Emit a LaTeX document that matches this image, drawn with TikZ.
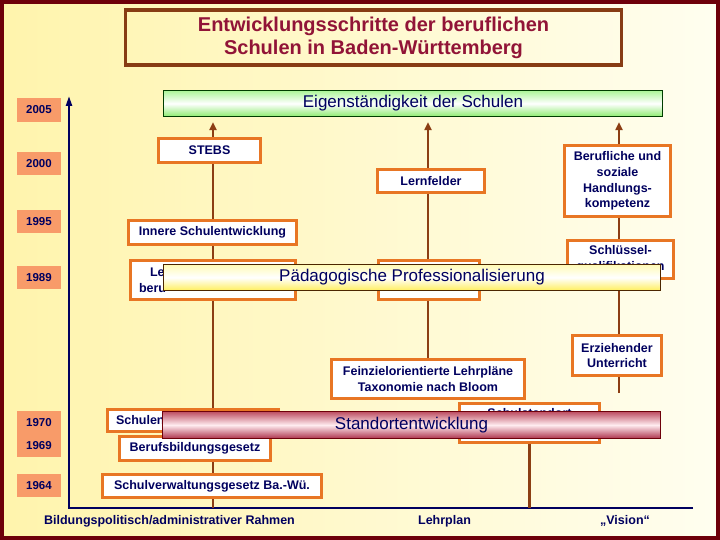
\documentclass[tikz,border=0pt]{standalone}
\usepackage{fontspec}
\setmainfont{Liberation Sans}
\usepackage{tikz}
\usetikzlibrary{arrows.meta,positioning}

\definecolor{framered}{RGB}{110,0,10}
\definecolor{titlebrown}{RGB}{135,60,20}
\definecolor{titletext}{RGB}{145,20,55}
\definecolor{navy}{RGB}{0,0,95}
\definecolor{salmon}{RGB}{248,155,105}
\definecolor{boxorange}{RGB}{232,118,36}
\definecolor{colbrown}{RGB}{140,62,20}
\definecolor{bgyellow}{RGB}{255,244,172}
\definecolor{bgwhite}{RGB}{255,254,240}
\newcommand{\boxfont}{\fontsize{12.5}{15.6}\selectfont\bfseries}
\newcommand{\yearfont}{\fontsize{11.5}{13}\selectfont\bfseries}
\newcommand{\bannerfont}{\fontsize{17}{20}\selectfont}
\newcommand{\headfont}{\fontsize{20}{23}\selectfont\bfseries}

\begin{document}
\begin{tikzpicture}[
      x=1pt, y=-1pt,
      yearbox/.style={fill=salmon, text=navy, font=\yearfont,
                      minimum width=44pt, minimum height=23pt, inner sep=0pt},
      stepbox/.style={draw=boxorange, line width=2.6pt, fill=white,
                      text=navy, font=\boxfont, align=center, inner sep=0pt},
      banner/.style={line width=0.8pt, text=navy, font=\bannerfont,
                     minimum height=26.5pt, inner sep=0pt},
      col/.style={draw=colbrown, line width=2.5pt},
      colarr/.style={col, -{Triangle[length=8pt,width=7pt]}, shorten >=5pt},
      axis/.style={draw=navy, line width=2.2pt},
      foot/.style={text=navy, font=\boxfont}
    ]
    \useasboundingbox (0,0) rectangle (720,540);
    \shade[left color=bgyellow, right color=bgwhite] (0,0) rectangle (720,540);
    \draw[framered, line width=4pt] (2,2) rectangle (718,538);

    % heading
    \node[draw=titlebrown, line width=3.3pt, minimum width=496pt,
          minimum height=55pt, inner sep=0pt, align=center,
          text=titletext, font=\headfont] (head) at (373.5,37.5)
      {Entwicklungsschritte der beruflichen\\Schulen in Baden-Württemberg};

    % time axis
    \coordinate (axtop) at (69,96);
    \coordinate (axcorner) at (69,508);
    \coordinate (axend) at (693,508);
    \draw[axis, -{Triangle[length=10pt,width=6pt]}]
      (axend) -- (axcorner) -- (axtop);

    \foreach \yr/\y/\h in {2005/110/24, 2000/163.5/23, 1995/221.5/23,
                           1989/277.5/23, 1970/422.5/23, 1969/445.5/23,
                           1964/485.5/23}
      \node[yearbox, minimum height=\h pt] (y\yr) at (39,\y) {\yr};

    % goal bar
    \node[banner, draw=black!60!green!60!black, minimum width=499pt,
          top color={rgb,255:red,170;green,245;blue,150},
          bottom color={rgb,255:red,140;green,235;blue,110},
          middle color=white] (eig) at (413,103.5)
      {Eigenständigkeit der Schulen};

    % columns
    \coordinate (c1bot) at (213,508);
    \coordinate (c3foot) at (619,393);
    \node[stepbox, minimum width=192.5pt, minimum height=39.5pt] (fein)
      at (428,379) {Feinzielorientierte Lehrpläne\\Taxonomie nach Bloom};
    \foreach \a in {c1bot, fein.north, c3foot}
      \draw[colarr] (\a) -- (\a |- eig.south);

    % Rahmen
    \node[stepbox, minimum width=102.5pt, minimum height=24.5pt] (stebs)
      at (209.5,150.5) {STEBS};
    \node[stepbox, minimum width=168.5pt, minimum height=24.5pt] (innere)
      at (212.5,232.5) {Innere Schulentwicklung};
    \node[stepbox, minimum width=165.5pt, minimum height=39.5pt,
          text width=148pt, align=left] (lehr)
      at (213,280) {\hspace*{11pt}Le\\beru};
    \node[stepbox, minimum width=171.5pt, minimum height=22.5pt,
          text width=154pt, align=left] (schulen)
      at (193,420.5) {Schulen};
    \node[stepbox, minimum width=151.5pt, minimum height=24.5pt] (bbig)
      at (195,448.5) {Berufsbildungsgesetz};
    \node[stepbox, minimum width=219.5pt, minimum height=23.5pt] (schvg)
      at (212,486) {Schulverwaltungsgesetz Ba.-Wü.};

    % Lehrplan
    \node[stepbox, minimum width=107.5pt, minimum height=23.5pt] (lernf)
      at (431,181) {Lernfelder};
    \node[stepbox, minimum width=101.5pt, minimum height=39.5pt] (mitte)
      at (429,280) {};
    \node[stepbox, minimum width=140.5pt, minimum height=39.5pt] (stand)
      at (529.5,423) {Schulstandort\\\strut};
    \draw[col] (stand.south) -- (stand.south |- axcorner);

    % Vision
    \node[stepbox, minimum width=106.5pt, minimum height=71.5pt] (hkomp)
      at (617.5,181) {Berufliche und\\soziale\\Handlungs-\\kompetenz};
    \node[stepbox, minimum width=106.5pt, minimum height=38.5pt] (schlq)
      at (620.5,259.5) {Schlüssel-\\qualifikationen};
    \node[stepbox, minimum width=89.5pt, minimum height=40.5pt] (erz)
      at (617,355.5) {Erziehender\\Unterricht};

    % overlapping bands
    \node[banner, draw=black!70!orange, minimum width=497pt,
          top color={rgb,255:red,255;green,250;blue,180},
          bottom color={rgb,255:red,255;green,238;blue,90},
          middle color=white] (paed) at (412,277.5)
      {Pädagogische Professionalisierung};
    \node[banner, draw=framered, minimum width=498pt,
          top color={rgb,255:red,190;green,80;blue,100},
          bottom color={rgb,255:red,175;green,55;blue,80},
          middle color={rgb,255:red,255;green,236;blue,240}] (stort)
      at (411.5,425) {Standortentwicklung};

    % column titles
    \node[foot] (rahmen) at (169.5,521) {Bildungspolitisch/administrativer Rahmen};
    \node[foot] (lplan) at (444.5,521) {Lehrplan};
    \node[foot] (vision) at (625,521) {„Vision“};
  \end{tikzpicture}
\end{document}
